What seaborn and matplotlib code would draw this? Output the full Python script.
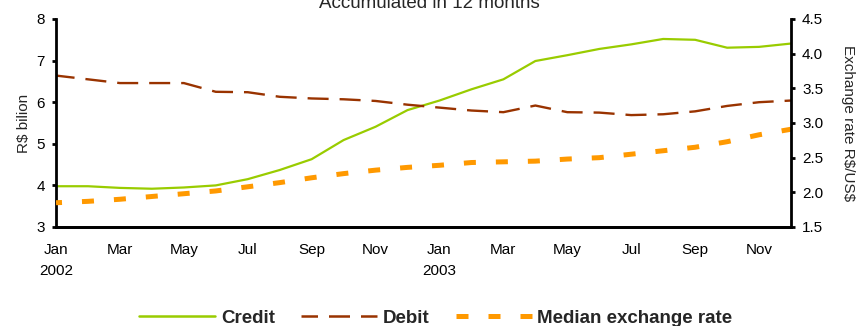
import matplotlib
matplotlib.use("Agg")
import matplotlib.pyplot as plt
import seaborn as sns
import pandas as pd
from matplotlib.lines import Line2D

sns.set_theme(style="white")
plt.rcParams["font.family"] = ["Liberation Sans", "DejaVu Sans"]

months = ["Jan", "Feb", "Mar", "Apr", "May", "Jun", "Jul", "Aug", "Sep", "Oct", "Nov", "Dec"] * 2
years = [2002] * 12 + [2003] * 12

credit = [3.98, 3.98, 3.94, 3.92, 3.95, 4.00, 4.15, 4.37, 4.63, 5.09, 5.41, 5.81,
          6.04, 6.31, 6.55, 6.99, 7.13, 7.28, 7.39, 7.52, 7.50, 7.31, 7.33, 7.41]
debit = [6.64, 6.55, 6.46, 6.46, 6.46, 6.25, 6.24, 6.13, 6.09, 6.07, 6.03, 5.94,
         5.87, 5.80, 5.76, 5.92, 5.76, 5.75, 5.69, 5.71, 5.78, 5.91, 6.00, 6.04]
exchange = [1.85, 1.87, 1.90, 1.94, 1.98, 2.02, 2.08, 2.14, 2.21, 2.27, 2.32, 2.36,
            2.39, 2.43, 2.44, 2.45, 2.48, 2.50, 2.55, 2.60, 2.65, 2.73, 2.83, 2.91]

df = pd.DataFrame({
    "t": range(len(months)),
    "month": months,
    "year": years,
    "credit": credit,
    "debit": debit,
    "exchange": exchange,
})

green = "#99cc00"
brown = "#993300"
orange = "#ff9900"

# dash patterns, in units of line width
debit_lw = 1.7
debit_style = (1.0, (8.9, 4.65))
fx_lw = 3.6
fx_style = (1.2, (2.4, 4.0))

fig = plt.figure(figsize=(8.58, 3.26), dpi=100)
ax = fig.add_axes([56 / 858, 1 - 227 / 326, (791 - 56) / 858, (227 - 19) / 326])
ax2 = ax.twinx()

sns.lineplot(data=df, x="t", y="credit", ax=ax, color=green, linewidth=1.6)
sns.lineplot(data=df, x="t", y="debit", ax=ax, color=brown, linewidth=debit_lw)
ax.lines[-1].set_linestyle(debit_style)
sns.lineplot(data=df, x="t", y="exchange", ax=ax2, color=orange, linewidth=fx_lw)
ax2.lines[-1].set_linestyle(fx_style)
ax2.lines[-1].set_dash_capstyle("butt")

ax.set_xlim(0, 23)
ax.set_ylim(3, 8)
ax2.set_ylim(1.5, 4.5)
ax.set_yticks(range(3, 9))
ax2.set_yticks([1.5, 2.0, 2.5, 3.0, 3.5, 4.0, 4.5])
ax2.set_yticklabels([f"{v:.1f}" for v in ax2.get_yticks()])

xt = list(range(0, 24, 2))
xl = []
for i in xt:
    lab = months[i]
    if months[i] == "Jan":
        lab += f"\n{years[i]}"
    xl.append(lab)
ax.set_xticks(xt)
ax.set_xticklabels(xl, ha="center", va="top", linespacing=1.6)

ax.set_xlabel("")
ax.set_ylabel(r"R\$ bilion", fontsize=11, labelpad=4)
ax2.set_ylabel(r"Exchange rate R\$/US\$", fontsize=11, rotation=270,
               labelpad=23)

for a in (ax, ax2):
    for s in a.spines.values():
        s.set_color("black")
        s.set_linewidth(2)
    a.spines["top"].set_visible(False)
    a.grid(False)
ax.spines["right"].set_visible(False)
ax2.spines["left"].set_visible(False)

ax.tick_params(axis="x", direction="out", length=4, width=2, colors="black",
               labelsize=11, pad=7.5)
ax.tick_params(axis="y", direction="out", length=3, width=2, colors="black",
               labelsize=11, pad=5, left=True)
ax2.tick_params(axis="y", direction="out", length=3, width=2, colors="black",
                labelsize=11, pad=5, right=True)
ax.set_facecolor("white")
ax2.patch.set_visible(False)

fig.text(0.5, 1 - 8 / 326, "Accumulated in 12 months", ha="center",
         va="baseline", fontsize=13.5)

handles = [
    Line2D([], [], color=green, linewidth=1.8),
    Line2D([], [], color=brown, linewidth=1.8, linestyle=(1.8, (8.4, 4.4))),
    Line2D([], [], color=orange, linewidth=fx_lw, linestyle=(0, (2.4, 4.0)),
           dash_capstyle="butt"),
]
labels = ["Credit", "Debit", "Median exchange rate"]
fig.legend(handles, labels, loc="center",
           bbox_to_anchor=(0.5 + 7 / 858, 1 - 318 / 326),
           ncol=3, frameon=False, handlelength=4.05, columnspacing=1.4,
           handletextpad=0.3, prop={"weight": "bold", "size": 13.5})

fig.savefig("out.png", dpi=100, facecolor="white")
